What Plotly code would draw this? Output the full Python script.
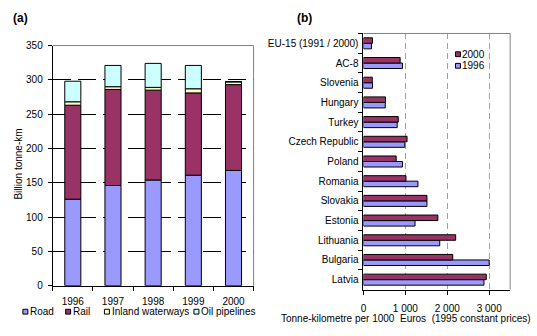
import plotly.graph_objects as go

# ---------------- data ----------------
years = ["1996", "1997", "1998", "1999", "2000"]
road = [126, 146, 154, 161, 168]
rail = [137, 140, 131, 120, 125]
inland = [5, 4, 4, 6, 4]
oil = [30, 31, 35, 34, 0.5]
modes = ["Road", "Rail", "Inland waterways", "Oil pipelines"]
mode_colors = ["#9999FF", "#993366", "#FFFFCC", "#CCFFFF"]

countries = ["Latvia", "Bulgaria", "Lithuania", "Estonia", "Slovakia", "Romania",
             "Poland", "Czech Republic", "Turkey", "Hungary", "Slovenia", "AC-8",
             "EU-15 (1991 / 2000)"]
v2000 = [2930, 2130, 2200, 1775, 1515, 1015, 780, 1040, 830, 525, 210, 875, 215]
v1996 = [2875, 3000, 1820, 1230, 1515, 1300, 930, 985, 805, 520, 215, 930, 190]
x_ticks = [0, 1000, 2000, 3000]
x_tick_labels = ["0", "1 000", "2 000", "3 000"]

# ---------------- layout helpers ----------------
W, H = 537, 336
def px(x):
    return x / W
def py(y):
    return 1 - y / H

FONT = "Liberation Sans Narrow, Arial Narrow, Liberation Sans, Arial, sans-serif"

fig = go.Figure()

series = [road, rail, inland, oil]
base = [0] * len(years)
for name, vals, col in zip(modes, series, mode_colors):
    fig.add_trace(go.Bar(
        x=years, y=vals, base=list(base), name=name, width=0.4,
        marker=dict(color=col, line=dict(color="black", width=1)),
        xaxis="x", yaxis="y", showlegend=False))
    base = [b + v for b, v in zip(base, vals)]

fig.add_trace(go.Bar(
    y=countries, x=v1996, name="1996", orientation="h", width=0.28, offset=-0.28,
    marker=dict(color="#9999FF", line=dict(color="black", width=1)),
    xaxis="x2", yaxis="y2", showlegend=False))
fig.add_trace(go.Bar(
    y=countries, x=v2000, name="2000", orientation="h", width=0.28, offset=0,
    marker=dict(color="#993366", line=dict(color="black", width=1)),
    xaxis="x2", yaxis="y2", showlegend=False))

axfont = dict(family=FONT, size=10, color="black")

fig.update_layout(
    width=W, height=H, margin=dict(l=0, r=0, t=0, b=0),
    paper_bgcolor="white", plot_bgcolor="white",
    barmode="overlay", showlegend=False,
    font=axfont,
    xaxis=dict(domain=[px(50), px(252)], type="category", showline=True,
               linecolor="black", linewidth=1, ticks="outside", ticklen=4,
               tickcolor="black", tickson="boundaries", showgrid=False,
               tickfont=axfont, ticklabelstandoff=6, fixedrange=True),
    yaxis=dict(domain=[py(290), py(41)], range=[0, 350], dtick=50,
               showline=True, linecolor="black", linewidth=1, ticks="outside",
               ticklen=4, tickcolor="black", showgrid=True, gridcolor="black",
               griddash="18px,7px", gridwidth=1, zeroline=False,
               ticklabelstandoff=3, tickfont=axfont),
    xaxis2=dict(domain=[px(362.5), px(510)], range=[0, 3500],
                tickvals=x_ticks, ticktext=x_tick_labels, anchor="y2",
                showline=True, linecolor="black", linewidth=1, ticks="outside",
                ticklen=4, tickcolor="black", showgrid=True, gridcolor="#A0A0A0",
                griddash="6px,4px", zeroline=False, ticklabelstandoff=5,
                tickfont=axfont),
    yaxis2=dict(domain=[py(294), py(28.5)], type="category",
                categoryorder="array", categoryarray=countries, anchor="x2",
                showline=True, linecolor="black", linewidth=1, ticks="outside",
                ticklen=4, tickcolor="black", tickson="boundaries",
                showgrid=False, ticklabelstandoff=2, tickfont=axfont),
)

# plot-area borders (top and right, grey)
shapes = []
for xr, yr in [("x domain", "y domain"), ("x2 domain", "y2 domain")]:
    shapes.append(dict(type="line", xref=xr, yref=yr, x0=0, x1=1, y0=1, y1=1,
                       line=dict(color="#808080", width=1)))
    shapes.append(dict(type="line", xref=xr, yref=yr, x0=1, x1=1, y0=0, y1=1,
                       line=dict(color="#808080", width=1)))

annotations = [
    dict(text="<b>(a)</b>", x=px(8), y=py(12), xref="paper", yref="paper",
         xanchor="left", yanchor="middle", showarrow=False,
         font=dict(family="Liberation Sans, Arial", size=12)),
    dict(text="<b>(b)</b>", x=px(294), y=py(12), xref="paper", yref="paper",
         xanchor="left", yanchor="middle", showarrow=False,
         font=dict(family="Liberation Sans, Arial", size=12)),
    dict(text="Billion tonne-km", x=px(15.5), y=py(164), xref="paper", yref="paper",
         xanchor="center", yanchor="middle", showarrow=False, textangle=-90,
         font=axfont),
    dict(text="Tonne-kilometre per 1000  Euros  (1995 constant prices)",
         x=px(405.5), y=py(324), xref="paper", yref="paper", xanchor="center",
         yanchor="middle", showarrow=False, font=axfont),
]

# custom legends
leg_a_x = [20, 63, 102, 192]
for name, col, lx in zip(modes, mode_colors, leg_a_x):
    shapes.append(dict(type="rect", xref="paper", yref="paper",
                       x0=px(lx), x1=px(lx + 5), y0=py(319.5), y1=py(314.5),
                       fillcolor=col, line=dict(color="black", width=1)))
    annotations.append(dict(text=name, x=px(lx + 5.5), y=py(317), xref="paper",
                            yref="paper", xanchor="left", yanchor="middle",
                            showarrow=False, font=axfont))

for name, col, ly in [("2000", "#993366", 50), ("1996", "#9999FF", 62)]:
    shapes.append(dict(type="rect", xref="paper", yref="paper",
                       x0=px(455), x1=px(460), y0=py(ly + 2.5), y1=py(ly - 2.5),
                       fillcolor=col, line=dict(color="black", width=1)))
    annotations.append(dict(text=name, x=px(460), y=py(ly), xref="paper",
                            yref="paper", xanchor="left", yanchor="middle",
                            showarrow=False, font=axfont))

fig.update_layout(shapes=shapes, annotations=annotations)
fig.write_html("out.html")
